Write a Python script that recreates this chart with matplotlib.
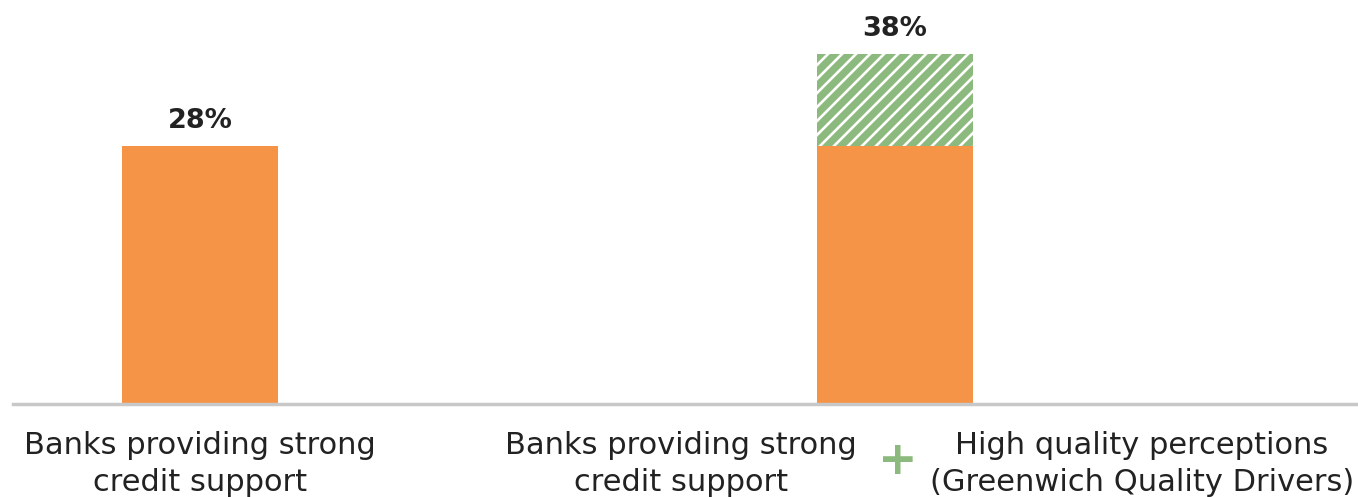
import numpy as np
import matplotlib.pyplot as plt

# Data
categories = ['Banks providing strong\ncredit support', 'combined']
base_values = [28, 28]
extra_values = [0, 10]
value_labels = ['28%', '38%']
label_left = 'Banks providing strong\ncredit support'
label_right = 'High quality perceptions\n(Greenwich Quality Drivers)'

orange = '#f59447'
green = '#8cb97d'

# dpi picked so the hatch stripes get roughly the reference spacing
DPI = 84
S = 100 / DPI  # font sizes below are given as if at 100 dpi

plt.rcParams['font.family'] = ['DejaVu Sans']
plt.rcParams['hatch.linewidth'] = 1.9 * S

fig = plt.figure(figsize=(1359 / DPI, 497 / DPI), dpi=DPI)
ax = fig.add_axes([13 / 1359, 93 / 497, 1 - 13 / 1359, 404 / 497])

x = np.arange(len(categories))
width = 0.2245
ax.bar(x, base_values, width=width, color=orange, linewidth=0)
ax.bar(x, extra_values, width=width, bottom=base_values, color=green,
       edgecolor='white', hatch='//', linewidth=0)

totals = [b + e for b, e in zip(base_values, extra_values)]
for xi, t, lab in zip(x, totals, value_labels):
    ax.text(xi, t + 1.3, lab, ha='center', va='bottom', fontsize=19.5 * S,
            fontweight='bold', color='#222222')

ax.set_xlim(-0.269, 1.668)
ax.set_ylim(0, 43.85)
for s in ['top', 'right', 'left']:
    ax.spines[s].set_visible(False)
ax.spines['bottom'].set_color('#c8c8c8')
ax.spines['bottom'].set_linewidth(2.5 * S)
ax.set_xticks([])
ax.set_yticks([])

# category labels under the axis
fs = 22 * S
fig.text(200 / 1359, 1 - 464 / 497, label_left, ha='center', va='center',
         fontsize=fs, color='#222222', linespacing=1.32)
fig.text(681 / 1359, 1 - 464 / 497, label_left, ha='center', va='center',
         fontsize=fs, color='#222222', linespacing=1.32)
fig.text(898 / 1359, 1 - 462 / 497, '+', ha='center', va='center',
         fontsize=34 * S, fontweight='bold', color=green)
fig.text(1142 / 1359, 1 - 464 / 497, label_right, ha='center', va='center',
         fontsize=fs, color='#222222', linespacing=1.32)

fig.savefig('out.png', dpi=DPI)
